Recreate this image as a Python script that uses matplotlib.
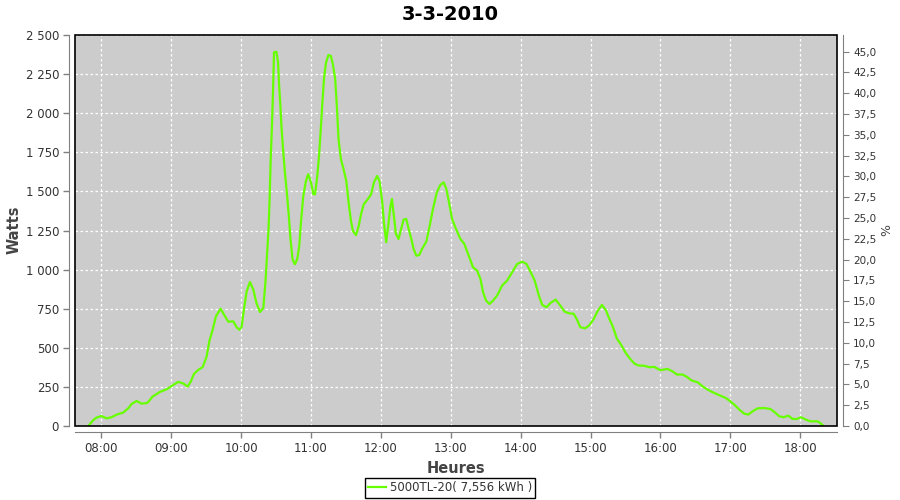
import matplotlib
matplotlib.use("Agg")
import matplotlib.pyplot as plt
from matplotlib.patches import Rectangle

# ---- data (hours of day, watts) ----
hours = [7.814, 7.886, 7.93, 8.0, 8.076, 8.148, 8.22, 8.31, 8.386, 8.434, 8.505, 8.577,
         8.658, 8.734, 8.839, 8.935, 9.03, 9.10, 9.17, 9.235, 9.28, 9.326, 9.388, 9.45,
         9.507, 9.545, 9.593, 9.64, 9.707, 9.77, 9.817, 9.888, 9.936, 9.974, 10.007, 10.04,
         10.08, 10.127, 10.175, 10.22, 10.27, 10.318, 10.35, 10.37, 10.394, 10.409, 10.423,
         10.442, 10.457, 10.471, 10.505, 10.529, 10.543, 10.5625, 10.577, 10.60, 10.625,
         10.659, 10.683, 10.707, 10.736, 10.769, 10.803, 10.832, 10.856, 10.89, 10.928,
         10.96, 11.0, 11.034, 11.058, 11.09, 11.115, 11.14, 11.163, 11.1875, 11.216, 11.25,
         11.284, 11.3125, 11.346, 11.37, 11.394, 11.428, 11.466, 11.505, 11.538, 11.572,
         11.6, 11.644, 11.683, 11.716, 11.755, 11.8125, 11.86, 11.9, 11.947, 11.98, 12.02,
         12.043, 12.076, 12.11, 12.134, 12.158, 12.18, 12.215, 12.253, 12.29, 12.325,
         12.363, 12.397, 12.435, 12.468, 12.506, 12.55, 12.588, 12.65, 12.698, 12.745,
         12.8, 12.85, 12.898, 12.936, 12.97, 13.018, 13.065, 13.137, 13.194, 13.257,
         13.318, 13.376, 13.424, 13.462, 13.505, 13.553, 13.605, 13.663, 13.734, 13.806,
         13.877, 13.949, 14.02, 14.083, 14.14, 14.2, 14.26, 14.308, 14.37, 14.427, 14.5,
         14.56, 14.628, 14.695, 14.757, 14.804, 14.852, 14.919, 14.98, 15.043, 15.1,
         15.162, 15.219, 15.267, 15.315, 15.377, 15.434, 15.496, 15.553, 15.625, 15.682,
         15.768, 15.84, 15.91, 15.997, 16.1, 16.17, 16.235, 16.316, 16.378, 16.445,
         16.531, 16.6, 16.674, 16.745, 16.84, 16.936, 16.998, 17.055, 17.127, 17.198,
         17.256, 17.318, 17.39, 17.484, 17.57, 17.628, 17.7, 17.76, 17.828, 17.89, 17.95,
         18.01, 18.08, 18.142, 18.247, 18.285, 18.333]
watts = [0, 38, 53, 64, 49, 56, 73, 85, 113, 141, 160, 143,
         147, 188, 218, 235, 263, 282, 273, 252, 284, 333, 359, 376,
         444, 541, 615, 701, 750, 701, 667, 669, 632, 615, 632, 744,
         861, 921, 872, 786, 729, 754, 930, 1087, 1269, 1471, 1695,
         1930, 2143, 2389, 2393, 2325, 2186, 2047, 1919, 1770, 1631,
         1471, 1343, 1194, 1066, 1034, 1066, 1151, 1301, 1471, 1567,
         1610, 1557, 1482, 1482, 1599, 1727, 1898, 2069, 2229, 2325, 2372,
         2367, 2314, 2218, 2047, 1834, 1706, 1642, 1567, 1429, 1311,
         1247, 1220, 1279, 1354, 1418, 1450, 1482, 1557, 1599, 1567, 1429,
         1301, 1175, 1302, 1398, 1452, 1366, 1228, 1196, 1260, 1320,
         1324, 1260, 1196, 1132, 1089, 1094, 1132, 1179, 1281, 1388,
         1494, 1541, 1558, 1516, 1441, 1324, 1270, 1196, 1164, 1089,
         1015, 994, 940, 855, 802, 780, 802, 834, 898, 930,
         983, 1036, 1051, 1036, 987, 930, 834, 774, 759, 787, 808,
         774, 731, 720, 718, 682, 632, 624, 643, 682, 735,
         774, 741, 686, 639, 558, 521, 472, 436, 400, 387,
         385, 376, 378, 357, 365, 350, 329, 329, 314, 291,
         280, 254, 233, 216, 197, 179, 158, 137, 105, 79,
         73, 94, 113, 115, 109, 90, 62, 56, 66, 45, 45,
         56, 41, 30, 30, 19, 0]

hour_ticks = [8, 9, 10, 11, 12, 13, 14, 15, 16, 17, 18]
hour_labels = ["08:00", "09:00", "10:00", "11:00", "12:00", "13:00", "14:00",
               "15:00", "16:00", "17:00", "18:00"]
watt_ticks = [0, 250, 500, 750, 1000, 1250, 1500, 1750, 2000, 2250, 2500]
watt_labels = ["0", "250", "500", "750", "1 000", "1 250", "1 500", "1 750",
               "2 000", "2 250", "2 500"]
pct_ticks = [0, 2.5, 5, 7.5, 10, 12.5, 15, 17.5, 20, 22.5, 25, 27.5, 30, 32.5, 35,
             37.5, 40, 42.5, 45]
pct_labels = ["0,0", "2,5", "5,0", "7,5", "10,0", "12,5", "15,0", "17,5", "20,0",
              "22,5", "25,0", "27,5", "30,0", "32,5", "35,0", "37,5", "40,0", "42,5",
              "45,0"]
series_name = "5000TL-20( 7,556 kWh )"
title = "3-3-2010"

# ---- figure ----
fig = plt.figure(figsize=(9, 5), dpi=100)
fig.patch.set_facecolor("white")
ax = fig.add_axes([75 / 900, 1 - 426 / 500, (837 - 75) / 900, (426 - 35) / 500])
ax.set_facecolor("#cccccc")

line, = ax.plot(hours, watts, color="#66ff00", linewidth=1.6, label=series_name,
                zorder=3)

ax.set_xlim(7.624, 18.525)
ax.set_ylim(0, 2500)
ax.set_xticks(hour_ticks)
ax.set_xticklabels(hour_labels)
ax.set_yticks(watt_ticks)
ax.set_yticklabels(watt_labels)
ax.grid(True, color="white", linestyle=(0, (2, 2)), linewidth=0.9)
ax.set_axisbelow(True)

tick_color = "#808080"
label_color = "#333333"
for side in ["top", "right"]:
    ax.spines[side].set_visible(False)
for side in ["left", "bottom"]:
    ax.spines[side].set_position(("outward", 4))
    ax.spines[side].set_color(tick_color)
ax.tick_params(direction="out", length=4, color=tick_color, labelsize=8.5,
               labelcolor=label_color, width=1)

ax.set_ylabel("Watts", fontsize=10.5, fontweight="bold", color="#444444")
ax.yaxis.set_label_coords(22 / 900, 1 - 230 / 500, transform=fig.transFigure)
ax.set_xlabel("Heures", fontsize=10.5, fontweight="bold", color="#444444")
ax.xaxis.set_label_coords(456 / 900, 1 - 461 / 500, transform=fig.transFigure)

# black plot border
ax.add_patch(Rectangle((0, 0), 1, 1, transform=ax.transAxes, fill=False,
                       edgecolor="black", linewidth=1.2, zorder=5, clip_on=False))

# right axis
ax2 = ax.twinx()
ax2.set_ylim(0, 47.0)
ax2.set_yticks(pct_ticks)
ax2.set_yticklabels(pct_labels)
for side in ["top", "left", "bottom"]:
    ax2.spines[side].set_visible(False)
ax2.spines["right"].set_position(("outward", 4))
ax2.spines["right"].set_color(tick_color)
ax2.tick_params(direction="out", length=4, color=tick_color, labelsize=7.5,
                labelcolor=label_color)
ax2.set_ylabel("%", fontsize=9, color="#444444", rotation=90)
ax2.yaxis.set_label_coords(880 / 900, 1 - 230 / 500, transform=fig.transFigure)

fig.suptitle(title, x=0.5, y=1 - 14 / 500, va="center", fontsize=14,
             fontweight="bold", color="black")

leg = fig.legend(handles=[line], loc="center", bbox_to_anchor=(450 / 900, 1 - 488 / 500),
                 fancybox=False, edgecolor="black", framealpha=1, fontsize=8.5,
                 handlelength=1.5, handletextpad=0.3, borderpad=0.3)
leg.get_frame().set_linewidth(1.0)
for t in leg.get_texts():
    t.set_color(label_color)

fig.savefig("out.png", dpi=100)
